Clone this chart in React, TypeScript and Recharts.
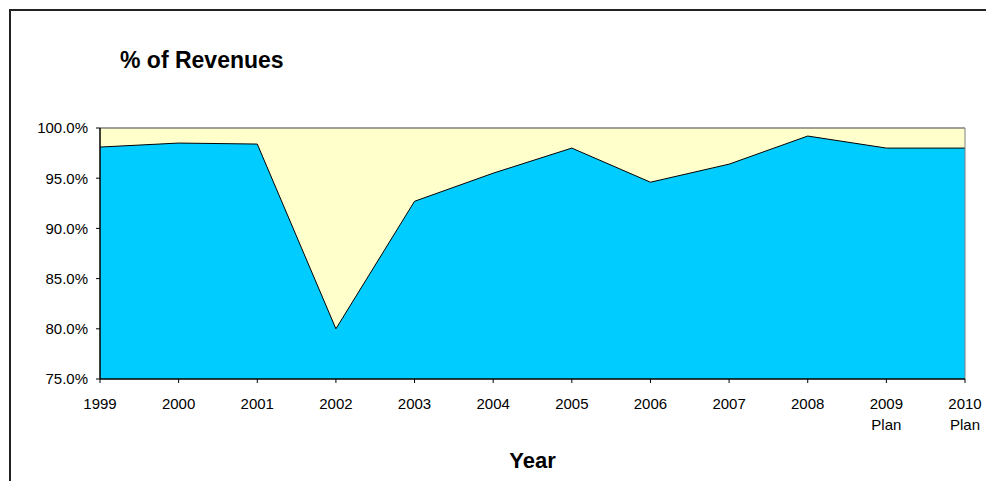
import { AreaChart, Area, XAxis, YAxis, CartesianGrid, ReferenceLine } from "recharts";

const years = ["1999", "2000", "2001", "2002", "2003", "2004", "2005", "2006", "2007", "2008", "2009 Plan", "2010 Plan"];
const share = [98.1, 98.5, 98.4, 80.0, 92.7, 95.5, 98.0, 94.6, 96.4, 99.2, 98.0, 98.0];
const yTicks = [75, 80, 85, 90, 95, 100];

const data = years.map((year, i) => ({ year, share: share[i] }));

const font = "'Liberation Sans', Arial, sans-serif";

function YearTick({ x, y, payload }: any) {
  const parts = String(payload.value).split(" ");
  return (
    <text x={x} y={y} textAnchor="middle" fontSize={15} fontFamily={font} fill="#000">
      {parts.map((p, i) => (
        <tspan key={i} x={x} dy={i === 0 ? "0.71em" : "1.4em"}>
          {p}
        </tspan>
      ))}
    </text>
  );
}

export default function App() {
  return (
    <div style={{ position: "absolute", left: 0, top: 0, width: 986, height: 481, overflow: "hidden", background: "#fff" }}>
      <div
        style={{
          position: "absolute",
          left: 9,
          top: 9,
          width: 1200,
          height: 800,
          borderLeft: "2px solid #222",
          borderTop: "2px solid #222",
        }}
      />
      <div
        style={{
          position: "absolute",
          left: 120,
          top: 49,
          fontFamily: font,
          fontWeight: "bold",
          fontSize: 23,
          lineHeight: "23px",
          whiteSpace: "nowrap",
        }}
      >
        % of Revenues
      </div>
      <AreaChart
        width={986}
        height={481}
        data={data}
        margin={{ top: 128, right: 21, bottom: 0, left: 0 }}
        style={{ position: "absolute", left: 0, top: 0 }}
      >
        <CartesianGrid fill="#FFFFCC" horizontal={false} vertical={false} stroke="none" />
        <ReferenceLine y={100} stroke="#808080" strokeWidth={1.5} />
        <ReferenceLine x="2010 Plan" stroke="#808080" strokeWidth={1} />
        <Area
          type="linear"
          dataKey="share"
          fill="#00CCFF"
          fillOpacity={1}
          stroke="#000"
          strokeWidth={1}
          isAnimationActive={false}
          dot={false}
          activeDot={false}
        />
        <XAxis
          dataKey="year"
          height={102}
          interval={0}
          tick={<YearTick />}
          tickSize={4}
          tickMargin={15}
          axisLine={{ stroke: "#000", strokeWidth: 1.5 }}
          tickLine={{ stroke: "#000" }}
          label={{
            value: "Year",
            position: "insideBottom",
            offset: 13,
            style: { fontFamily: font, fontWeight: "bold", fontSize: 22, fill: "#000" },
          }}
        />
        <YAxis
          width={100}
          domain={[75, 100]}
          ticks={yTicks}
          interval={0}
          allowDataOverflow
          tickFormatter={(v: number) => v.toFixed(1) + "%"}
          tickSize={4}
          tickMargin={8}
          tick={{ fontSize: 15, fontFamily: font, fill: "#000" }}
          axisLine={{ stroke: "#000", strokeWidth: 1.5 }}
          tickLine={{ stroke: "#000" }}
        />
      </AreaChart>
    </div>
  );
}
